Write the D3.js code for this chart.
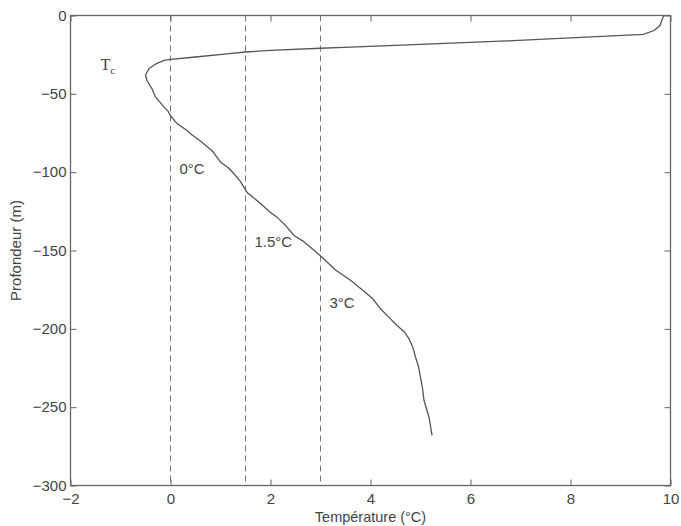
<!DOCTYPE html>
<html>
<head>
<meta charset="utf-8">
<script src="https://cdn.jsdelivr.net/npm/d3@7"></script>
<style>
  body { margin: 0; background: #fff; }
  text { font-family: "Liberation Sans", Arial, sans-serif; fill: #444; }
</style>
</head>
<body>
<script>
// temperature profile (°C, m)
var temperature = [9.87, 9.85, 9.79, 9.67, 9.46, 8.0, 6.6, 5.0, 3.6, 3.0, 2.0, 1.5, 1.13, 0.5, 0.0,
    -0.13, -0.3, -0.43, -0.5, -0.47, -0.37, -0.3, -0.22, -0.13, -0.05, 0.0, 0.13, 0.33, 0.4, 0.55,
    0.67, 0.85, 1.0, 1.15, 1.27, 1.4, 1.53, 1.65, 1.8, 1.97, 2.13, 2.3, 2.47, 2.65, 2.8, 3.03,
    3.3, 3.6, 3.87, 4.05, 4.2, 4.38, 4.53, 4.68, 4.77, 4.85, 4.9, 4.96, 5.0, 5.04, 5.07, 5.12,
    5.17, 5.2, 5.23];
var depth = [0, -1.1, -6.4, -9.6, -12.1, -14.3, -16.4, -18.4, -20.2, -20.9, -22.2, -23.3, -24.5, -26.5, -28.0,
    -28.7, -31, -34, -38, -41.5, -46.8, -52, -55, -58.5, -61, -64, -69, -73.4, -75.5, -79,
    -82, -87, -93.6, -97, -101, -106, -112.8, -116, -120, -125, -128.7, -134, -140.4, -144, -147.9, -154.3,
    -162.5, -169, -176, -181, -187.2, -193, -197.9, -202, -206.4, -212, -218, -224, -231, -238, -245.7, -251,
    -256.4, -262, -268];

var isotherms = [0, 1.5, 3];
var isothermLabels = ["0°C", "1.5°C", "3°C"];
var labelDepths = [-101, -148, -187];
var xTicks = [-2, 0, 2, 4, 6, 8, 10];
var yTicks = [0, -50, -100, -150, -200, -250, -300];

var W = 681, H = 526;
var margin = { top: 15.5, right: 10.5, bottom: 40.5, left: 70.5 };
var width = W - margin.left - margin.right,
    height = H - margin.top - margin.bottom;

var svg = d3.select("body").append("svg")
    .attr("width", W)
    .attr("height", H)
  .append("g")
    .attr("transform", "translate(" + margin.left + "," + margin.top + ")");

var x = d3.scaleLinear().domain([-2, 10]).range([0, width]);
var y = d3.scaleLinear().domain([-300, 0]).range([height, 0]);

var axisColor = "#666";

// isotherms
svg.selectAll(".iso")
    .data(isotherms)
    .enter().append("line")
      .attr("class", "iso")
      .attr("x1", function (d) { return x(d); })
      .attr("x2", function (d) { return x(d); })
      .attr("y1", 0)
      .attr("y2", height)
      .style("stroke", "#777")
      .style("stroke-width", 1)
      .style("stroke-dasharray", "6,4");

svg.selectAll(".isoLabel")
    .data(isotherms)
    .enter().append("text")
      .attr("class", "isoLabel")
      .text(function (d, i) { return isothermLabels[i]; })
      .attr("x", function (d) { return x(d) + 9; })
      .attr("y", function (d, i) { return y(labelDepths[i]); })
      .style("font-size", "15px");

// profile
var profile = temperature.map(function (t, i) { return [t, depth[i]]; });
svg.append("path")
    .datum(profile)
    .attr("d", d3.line()
        .x(function (d) { return x(d[0]); })
        .y(function (d) { return y(d[1]); }))
    .style("fill", "none")
    .style("stroke", "#555")
    .style("stroke-width", 1.3);

// T_c label
var tc = svg.append("text")
    .attr("x", x(-1.4))
    .attr("y", y(-34.5))
    .style("font-family", "'Liberation Serif', 'Times New Roman', serif")
    .style("font-size", "16px");
tc.append("tspan").text("T");
tc.append("tspan").text("c").attr("dy", 4).style("font-size", "11px");

// axes, ticks inside like matlab
function styleAxis(g) {
    g.select(".domain").remove();
    g.selectAll("line").style("stroke", axisColor);
    g.selectAll("text").style("font-size", "15px").style("fill", "#444")
        .style("font-family", "'Liberation Sans', Arial, sans-serif");
}

svg.append("g")
    .attr("transform", "translate(0," + height + ")")
    .call(d3.axisBottom(x).tickValues(xTicks).tickSizeInner(-6).tickSizeOuter(0).tickPadding(8)
        .tickFormat(d3.format("d")))
    .call(styleAxis);
svg.append("g")
    .call(d3.axisTop(x).tickValues(xTicks).tickSizeInner(-6).tickSizeOuter(0).tickFormat(""))
    .call(styleAxis);
svg.append("g")
    .call(d3.axisLeft(y).tickValues(yTicks).tickSizeInner(-6).tickSizeOuter(0).tickPadding(4)
        .tickFormat(d3.format("d")))
    .call(styleAxis);
svg.append("g")
    .attr("transform", "translate(" + width + ",0)")
    .call(d3.axisRight(y).tickValues(yTicks).tickSizeInner(-6).tickSizeOuter(0).tickFormat(""))
    .call(styleAxis);

svg.append("rect")
    .attr("width", width)
    .attr("height", height)
    .style("fill", "none")
    .style("stroke", axisColor)
    .style("stroke-width", 1.3);

// axis titles
svg.append("text")
    .text("Température (°C)")
    .attr("x", width / 2)
    .attr("y", height + 36)
    .attr("text-anchor", "middle")
    .style("font-size", "14.5px");

svg.append("text")
    .text("Profondeur (m)")
    .attr("transform", "translate(" + (-50) + "," + (height / 2) + ") rotate(-90)")
    .attr("text-anchor", "middle")
    .style("font-size", "15px");
</script>
</body>
</html>
